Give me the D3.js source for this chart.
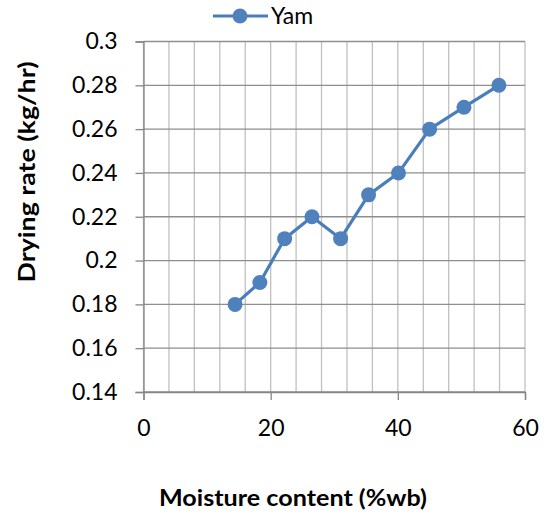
<!DOCTYPE html>
<html>
<head>
<meta charset="utf-8">
<script src="https://cdn.jsdelivr.net/npm/d3@7"></script>
<style>
  body { margin: 0; background: #fff; }
  text { font-family: Lato, "Open Sans", "Liberation Sans", sans-serif; }
</style>
</head>
<body>
<svg id="chart" width="550" height="513"></svg>
<script>
// series values
const moisture = [14.4, 18.3, 22.2, 26.5, 31.0, 35.4, 40.1, 45.0, 50.4, 55.9]
const dryingRate = [0.18, 0.19, 0.21, 0.22, 0.21, 0.23, 0.24, 0.26, 0.27, 0.28]
const seriesName = "Yam"

// axis ticks
const xTicks = [0, 20, 40, 60]
const xMinorTicks = d3.range(0, 61, 4)
const yTicks = [0.14, 0.16, 0.18, 0.2, 0.22, 0.24, 0.26, 0.28, 0.3]

// plot box
const plotLeft = 143.5, plotRight = 525, plotTop = 41.5, plotBottom = 392
const lineColor = "#4a7ebb"
const markerColor = "#4f81bd"
const axisColor = "#868686"
const labelFont = "Lato, 'Open Sans', sans-serif"

const svg = d3.select("#chart")

const x = d3.scaleLinear().domain([0, 60]).range([plotLeft, plotRight])
const y = d3.scaleLinear().domain([0.14, 0.3]).range([plotBottom, plotTop])

// minor vertical gridlines every 4 units
svg.append("g")
  .selectAll("line")
  .data(xMinorTicks)
  .join("line")
  .attr("x1", d => x(d)).attr("x2", d => x(d))
  .attr("y1", plotTop).attr("y2", plotBottom)
  .attr("stroke", "#c0c0c0")
  .attr("stroke-width", 1.3)

// horizontal gridlines
svg.append("g")
  .selectAll("line")
  .data(yTicks)
  .join("line")
  .attr("x1", plotLeft).attr("x2", plotRight)
  .attr("y1", d => y(d)).attr("y2", d => y(d))
  .attr("stroke", "#8e8e8e")
  .attr("stroke-width", 1.3)

// y axis
const yAxis = svg.append("g")
  .attr("transform", `translate(${plotLeft},0)`)
  .call(d3.axisLeft(y).tickValues(yTicks).tickSize(8).tickPadding(18)
    .tickFormat(d => String(+d.toFixed(2))))
yAxis.select(".domain").attr("stroke", axisColor).attr("stroke-width", 1.3)
yAxis.selectAll(".tick line").attr("stroke", axisColor).attr("stroke-width", 1.3)
yAxis.selectAll("text")
  .attr("font-size", 23)
  .attr("fill", "#000")
  .style("font-family", labelFont)

// x axis
const xAxis = svg.append("g")
  .attr("transform", `translate(0,${plotBottom})`)
  .call(d3.axisBottom(x).tickValues(xTicks).tickSize(8).tickPadding(20))
xAxis.select(".domain").attr("stroke", axisColor).attr("stroke-width", 1.3)
xAxis.selectAll(".tick line").attr("stroke", axisColor).attr("stroke-width", 1.3)
xAxis.selectAll("text")
  .attr("font-size", 23)
  .attr("fill", "#000")
  .style("font-family", labelFont)

// series line + markers
const pts = moisture.map((m, i) => [m, dryingRate[i]])
svg.append("path")
  .datum(pts)
  .attr("fill", "none")
  .attr("stroke", lineColor)
  .attr("stroke-width", 3.2)
  .attr("stroke-linejoin", "round")
  .attr("d", d3.line().x(d => x(d[0])).y(d => y(d[1])))

svg.append("g")
  .selectAll("circle")
  .data(pts)
  .join("circle")
  .attr("cx", d => x(d[0]))
  .attr("cy", d => y(d[1]))
  .attr("r", 7.5)
  .attr("fill", markerColor)

// legend
const lg = svg.append("g").attr("transform", "translate(213,16)")
lg.append("line").attr("x1", 0).attr("x2", 55).attr("y1", 0).attr("y2", 0)
  .attr("stroke", lineColor).attr("stroke-width", 3.2)
lg.append("circle").attr("cx", 27).attr("cy", 0).attr("r", 7.5).attr("fill", markerColor)
lg.append("text").attr("x", 58).attr("y", 0).attr("dy", "0.36em")
  .attr("font-size", 23).attr("fill", "#000").text(seriesName)

// axis titles
svg.append("text")
  .attr("x", 293).attr("y", 506)
  .attr("text-anchor", "middle")
  .attr("font-size", 22).attr("font-weight", "bold")
  .attr("textLength", 268).attr("lengthAdjust", "spacingAndGlyphs")
  .text("Moisture content (%wb)")

svg.append("text")
  .attr("transform", "translate(27,172) rotate(-90)")
  .attr("text-anchor", "middle")
  .attr("dy", "0.35em")
  .attr("font-size", 22).attr("font-weight", "bold")
  .attr("textLength", 221).attr("lengthAdjust", "spacingAndGlyphs")
  .text("Drying rate (kg/hr)")
</script>
</body>
</html>
